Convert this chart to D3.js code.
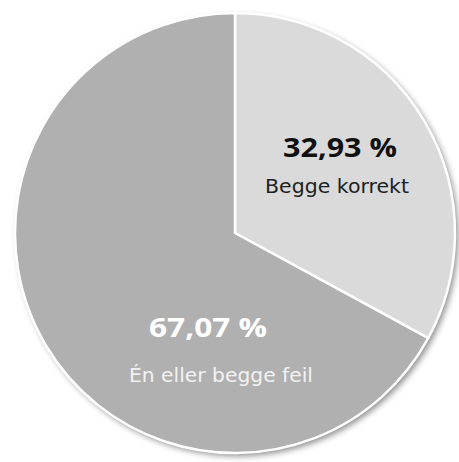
<!DOCTYPE html>
<html>
<head>
<meta charset="utf-8">
<script src="https://cdn.jsdelivr.net/npm/d3@7"></script>
<style>
  html, body { margin: 0; padding: 0; background: #ffffff; }
  svg { display: block; }
</style>
</head>
<body>
<svg id="chart" width="459" height="462"></svg>
<script>
// Share of answers: both correct vs. one or both wrong
const categories = ["Begge korrekt", "Én eller begge feil"];
const values = [32.93, 67.07];
const valueLabels = ["32,93 %", "67,07 %"];
const sliceColors = ["#dadada", "#b0b0b0"];
const valueColors = ["#111111", "#ffffff"];
const nameColors = ["#1e1e1e", "#f2f2f2"];

// label layout per slice (offset from pie centre, text widths)
const labelLayout = [
  { vx: 105, vy: -76, vw: 114, nx: 102, ny: -40, nw: 144 },
  { vx: -27, vy: 104, vw: 118, nx: -14, ny: 149, nw: 184 }
];

const svg = d3.select("#chart");
const cx = 235, cy = 233, radius = 220;

const defs = svg.append("defs");
const shadow = defs.append("filter")
  .attr("id", "pieShadow")
  .attr("x", "-10%").attr("y", "-10%")
  .attr("width", "120%").attr("height", "120%");
shadow.append("feDropShadow")
  .attr("dx", 3).attr("dy", 3)
  .attr("stdDeviation", 3)
  .attr("flood-color", "#000")
  .attr("flood-opacity", 0.45);

const pie = d3.pie().sort(null).value(d => d.value);
const arc = d3.arc().innerRadius(0).outerRadius(radius);

const data = categories.map((c, i) => ({ name: c, value: values[i], index: i }));
const arcs = pie(data);

const g = svg.append("g").attr("transform", `translate(${cx},${cy})`);

// soft drop shadow under the whole pie
g.append("circle")
  .attr("r", radius)
  .attr("fill", "#ffffff")
  .attr("filter", "url(#pieShadow)");

g.selectAll("path.slice")
  .data(arcs)
  .join("path")
  .attr("class", "slice")
  .attr("d", arc)
  .attr("fill", d => sliceColors[d.index])
  .attr("stroke", "#ffffff")
  .attr("stroke-width", 2.5)
  .attr("stroke-linejoin", "round");

const labels = g.selectAll("g.label")
  .data(arcs)
  .join("g")
  .attr("class", "label");

labels.append("text")
  .attr("text-anchor", "middle")
  .attr("x", d => labelLayout[d.index].vx)
  .attr("y", d => labelLayout[d.index].vy)
  .attr("textLength", d => labelLayout[d.index].vw)
  .attr("lengthAdjust", "spacingAndGlyphs")
  .attr("font-family", "'Open Sans', 'Liberation Sans', sans-serif")
  .attr("font-weight", "bold")
  .attr("font-size", 27)
  .attr("fill", d => valueColors[d.index])
  .text(d => valueLabels[d.index]);

labels.append("text")
  .attr("text-anchor", "middle")
  .attr("x", d => labelLayout[d.index].nx)
  .attr("y", d => labelLayout[d.index].ny)
  .attr("textLength", d => labelLayout[d.index].nw)
  .attr("lengthAdjust", "spacingAndGlyphs")
  .attr("font-family", "'DejaVu Sans', 'Lato', sans-serif")
  .attr("font-size", 19)
  .attr("fill", d => nameColors[d.index])
  .text(d => d.data.name);
</script>
</body>
</html>
